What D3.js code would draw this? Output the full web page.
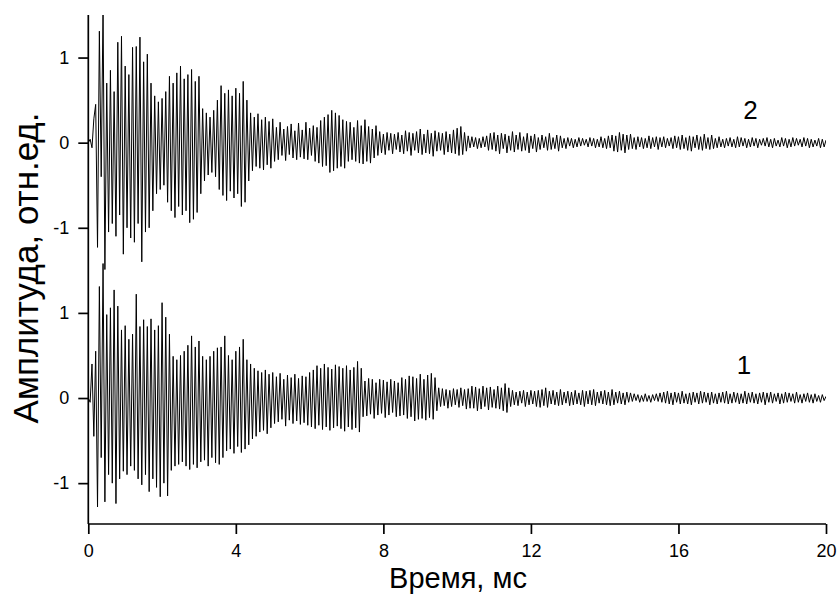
<!DOCTYPE html>
<meta charset="utf-8">
<head>
<title>Амплитуда сигналов 1 и 2</title>
<script type="text/javascript" src="https://cdn.jsdelivr.net/npm/d3@7/dist/d3.min.js"></script>
<style>
    body { margin: 0; background: #fff; }
    text { font-family: Arial, "Liberation Sans", sans-serif; fill: #000; }
</style>
</head>
<body>
<div id="chart"></div>
<script>

    // sample step, ms (one extreme of the trace per step)
    var dt = 0.05;

    // x axis ticks, ms
    var xTicks = [0, 4, 8, 12, 16, 20];

    // trace labels
    var curveNames = ["1", "2"];

    // trace 2 (upper), amplitude x100
    var curve2 = [
        0, 4, -6, 28, 45, -123, 131, -40, 160, -149,
        70, -105, 85, -95, 60, -110, 118, -85, 125, -131,
        90, -100, 80, -112, 112, -117, 113, -95, 124, -140,
        95, -105, 104, -100, 70, -80, 55, -60, 48, -55,
        52, -50, 60, -70, 78, -80, 70, -88, 82, -75,
        90, -85, 75, -80, 80, -94, 86, -90, 72, -82,
        78, -60, 40, -45, 35, -38, 30, -35, 38, -40,
        50, -55, 67, -62, 58, -68, 62, -57, 55, -65,
        64, -60, 58, -75, 72, -70, 50, -45, 35, -33,
        30, -28, 34, -30, 27, -32, 30, -26, 25, -30,
        28, -22, 18, -20, 24, -15, 16, -21, 19, -14,
        22, -18, 14, -20, 23, -17, 15, -19, 24, -20,
        17, -15, 20, -22, 18, -24, 26, -28, 30, -27,
        33, -35, 38, -33, 35, -30, 32, -28, 27, -30,
        25, -22, 24, -20, 18, -22, 26, -24, 20, -25,
        27, -22, 19, -24, 16, -18, 20, -15, 13, -12,
        10, -14, 12, -9, 11, -13, 10, -8, 12, -11,
        9, -13, 14, -10, 12, -15, 11, -9, 13, -12,
        16, -14, 10, -12, 15, -13, 11, -16, 14, -10,
        12, -9, 11, -14, 13, -11, 10, -12, 15, -13,
        17, -15, 19, -14, 12, -10, 8, -6, 7, -5,
        6, -7, 5, -6, 7, -5, 8, -9, 11, -8,
        12, -10, 9, -13, 11, -7, 10, -12, 8, -9,
        13, -11, 9, -8, 12, -10, 7, -9, 11, -12,
        8, -7, 10, -11, 6, -8, 9, -6, 7, -9,
        11, -8, 6, -7, 9, -10, 8, -6, 5, -7,
        6, -4, 5, -6, 4, -5, 6, -4, 5, -3,
        4, -5, 6, -4, 5, -6, 4, -5, 7, -6,
        5, -7, 8, -6, 9, -10, 8, -11, 12, -9,
        10, -12, 9, -8, 10, -7, 6, -8, 7, -5,
        6, -7, 5, -6, 8, -7, 6, -5, 7, -8,
        6, -5, 7, -6, 5, -4, 6, -7, 8, -6,
        7, -8, 9, -7, 6, -9, 8, -10, 7, -6,
        9, -8, 7, -9, 10, -7, 6, -8, 9, -7,
        5, -6, 7, -5, 4, -6, 5, -4, 6, -5,
        4, -6, 7, -5, 6, -4, 5, -6, 4, -5,
        6, -4, 5, -6, 4, -3, 5, -4, 6, -5,
        4, -6, 5, -4, 3, -5, 6, -4, 5, -6,
        4, -5, 6, -4, 5, -3, 4, -5, 6, -4,
        5, -6, 4, -5, 3, -4, 5, -6, 4, -5,
        3
    ];

    // trace 1 (lower), amplitude x100
    var curve1 = [
        0, -5, 40, -45, 55, -128, 131, -70, 158, -122,
        98, -90, 106, -100, 127, -124, 108, -95, 80, -86,
        85, -90, 69, -80, 75, -85, 122, -95, 84, -102,
        92, -90, 84, -110, 93, -95, 80, -105, 85, -116,
        112, -100, 95, -115, 75, -85, 49, -80, 45, -78,
        50, -75, 55, -80, 62, -84, 73, -78, 60, -82,
        67, -75, 49, -73, 45, -80, 49, -70, 55, -76,
        59, -78, 60, -70, 73, -62, 50, -60, 45, -65,
        55, -57, 60, -64, 69, -60, 45, -55, 40, -48,
        35, -45, 32, -40, 30, -38, 33, -42, 28, -35,
        30, -30, 25, -28, 29, -25, 22, -33, 27, -26,
        24, -30, 28, -27, 23, -31, 26, -29, 25, -32,
        30, -34, 33, -36, 38, -32, 35, -37, 40, -34,
        36, -38, 34, -35, 39, -33, 37, -36, 35, -39,
        38, -34, 33, -37, 36, -35, 43, -40, 35, -22,
        20, -21, 23, -19, 22, -24, 18, -20, 22, -18,
        21, -23, 19, -20, 22, -17, 20, -22, 18, -21,
        24, -20, 22, -24, 26, -22, 25, -27, 23, -25,
        28, -24, 22, -26, 27, -23, 29, -25, 24, -15,
        12, -10, 11, -9, 10, -12, 9, -10, 11, -8,
        10, -11, 12, -9, 10, -13, 11, -12, 14, -12,
        13, -15, 11, -13, 14, -10, 12, -14, 13, -11,
        10, -12, 14, -13, 12, -15, 17, -17, 12, -10,
        9, -8, 7, -9, 8, -6, 9, -10, 7, -8,
        9, -7, 8, -10, 9, -11, 10, -9, 12, -11,
        8, -7, 9, -8, 7, -9, 10, -8, 7, -6,
        8, -9, 7, -8, 9, -7, 6, -8, 9, -10,
        8, -7, 9, -8, 10, -9, 7, -6, 8, -7,
        9, -8, 7, -9, 10, -8, 7, -6, 8, -7,
        6, -8, 7, -5, 6, -4, 5, -3, 4, -5,
        3, -4, 5, -4, 3, -5, 4, -3, 5, -4,
        6, -5, 7, -6, 8, -7, 6, -8, 7, -5,
        6, -7, 8, -6, 5, -7, 6, -8, 7, -5,
        6, -7, 8, -6, 7, -5, 6, -8, 7, -6,
        5, -7, 6, -5, 7, -6, 8, -7, 5, -6,
        7, -5, 6, -7, 5, -6, 8, -7, 6, -5,
        7, -6, 5, -7, 6, -5, 7, -8, 6, -5,
        7, -6, 5, -4, 6, -7, 5, -6, 7, -5,
        6, -4, 5, -6, 7, -5, 4, -6, 5, -4,
        6, -5, 4, -6, 5, -4, 3, -5, 4, -3,
        2
    ];

    // upper trace is drawn shifted up by this many units
    var offset2 = 3;

    var width = 837, height = 594;

    var svg = d3.select("#chart")
                .append("svg")
                .attr("width", width)
                .attr("height", height);

    var x = d3.scaleLinear().domain([0, 20]).range([88.3, 826]);
    var y = d3.scaleLinear().domain([-1.48, 4.5]).range([524, 15]);

    // clip traces to the plot box
    svg.append("clipPath").attr("id", "plotclip")
       .append("rect")
       .attr("x", x(0)).attr("y", y(4.5))
       .attr("width", x(20) - x(0)).attr("height", y(-1.48) - y(4.5));

    function toPoints(arr, shift) {
        return arr.map(function (v, i) { return [i * dt, v / 100 + shift]; });
    }

    var line = d3.line()
                 .x(function (d) { return x(d[0]); })
                 .y(function (d) { return y(d[1]); });

    var traces = svg.append("g").attr("clip-path", "url(#plotclip)");

    [[curve1, 0], [curve2, offset2]].forEach(function (c) {
        traces.append("path")
              .datum(toPoints(c[0], c[1]))
              .attr("d", line)
              .attr("fill", "none")
              .attr("stroke", "#000")
              .attr("stroke-width", 1)
              .attr("stroke-linejoin", "miter");
    });

    // axes
    var xAxis = d3.axisBottom(x).tickValues(xTicks).tickSize(10).tickPadding(10)
                  .tickFormat(d3.format("d"));
    var yAxis = d3.axisLeft(y).tickValues([-1, 0, 1, 2, 3, 4]).tickSize(10).tickPadding(9)
                  .tickFormat(function (d) { return d > 1.5 ? d - offset2 : d; });

    var gx = svg.append("g").attr("transform", "translate(0," + y(-1.48) + ")").call(xAxis);
    var gy = svg.append("g").attr("transform", "translate(" + x(0) + ",0)").call(yAxis);

    [gx, gy].forEach(function (g) {
        g.select(".domain").attr("stroke", "#000").attr("stroke-width", 1.7);
        g.selectAll(".tick line").attr("stroke", "#000").attr("stroke-width", 1.7);
        g.selectAll(".tick text").attr("font-size", 18)
         .style("font-family", "Arial, 'Liberation Sans', sans-serif");
    });
    // d3 draws outer ticks on the domain path; keep it a plain line
    gx.select(".domain").attr("d", "M" + x(0) + ",0H" + x(20));
    gy.select(".domain").attr("d", "M0," + y(-1.48) + "V" + y(4.5));

    // axis titles
    svg.append("text")
       .attr("x", 458).attr("y", 588)
       .attr("text-anchor", "middle")
       .attr("font-size", 29)
       .text("Время, мс");

    svg.append("text")
       .attr("transform", "translate(38,268) rotate(-90)")
       .attr("text-anchor", "middle")
       .attr("font-size", 35)
       .text("Амплитуда, отн.ед.");

    // trace numbers
    svg.append("text").attr("x", 744).attr("y", 374)
       .attr("text-anchor", "middle").attr("font-size", 26).text(curveNames[0]);
    svg.append("text").attr("x", 750.5).attr("y", 118.6)
       .attr("text-anchor", "middle").attr("font-size", 26).text(curveNames[1]);

</script>
</body>
</html>
